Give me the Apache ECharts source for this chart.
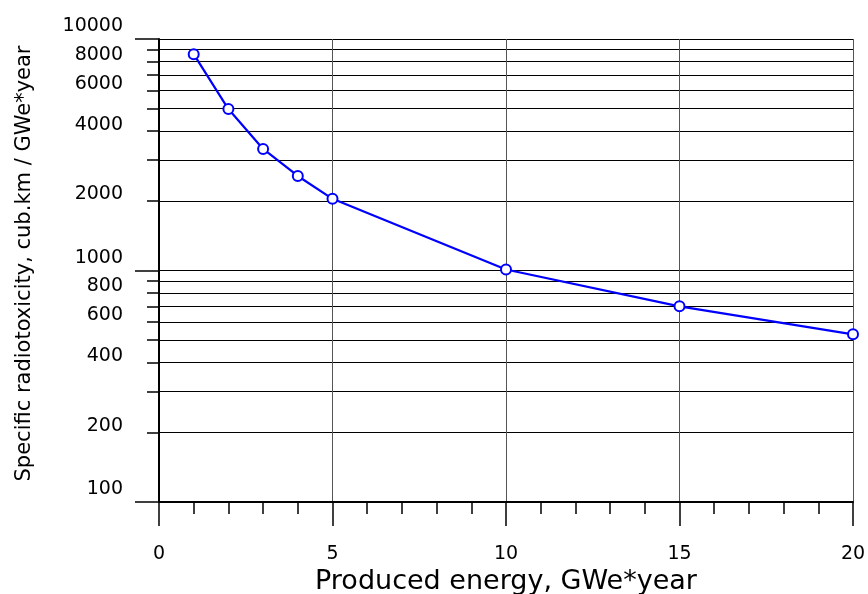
<!DOCTYPE html>
<html>
<head>
<meta charset="utf-8">
<script src="https://cdn.jsdelivr.net/npm/echarts@6/dist/echarts.min.js"></script>
<style>
html,body{margin:0;padding:0;background:#fff;}
#chart{width:868px;height:594px;}
</style>
</head>
<body>
<div id="chart"></div>
<script>
// Data
var energy = [1, 2, 3, 4, 5, 10, 15, 20];
var radiotoxicity = [8600, 4980, 3350, 2560, 2040, 1010, 700, 530];

// Tick / label values (raw units of the log axis)
var minorTickValues = [100,200,300,400,500,600,700,800,900,1000,2000,3000,4000,5000,6000,7000,8000,9000,10000];
var minorLabelValues = [200,400,600,800,2000,4000,6000,8000];
var majorValues = [100,1000,10000];
var xTickLabels = [0, 5, 10, 15, 20];

var FONT = 'DejaVu Sans';
function lg(v){ return Math.log10(v); }
function fmt(v){ return String(Math.round(Math.pow(10, v))); }

var chart = echarts.init(document.getElementById('chart'), null, {renderer:'canvas'});
chart.setOption({
  animation: false,
  backgroundColor: '#fff',
  grid: {left: 159, right: 15, top: 39, bottom: 92, containLabel: false, outerBoundsMode: 'none'},
  xAxis: {
    type: 'value', min: 0, max: 20, interval: 5,
    name: 'Produced energy, GWe*year', nameLocation: 'middle', nameGap: 62,
    nameTextStyle: {fontFamily: FONT, fontSize: 27, color: '#000'},
    axisLine: {show: true, onZero: false, lineStyle: {color: '#000', width: 2}},
    axisTick: {show: true, length: 24, lineStyle: {color: '#000', width: 1.5}},
    minorTick: {show: true, splitNumber: 5, length: 12, lineStyle: {color: '#000', width: 1.5}},
    axisLabel: {fontFamily: FONT, fontSize: 19, color: '#000', margin: 43,
      customValues: xTickLabels},
    splitLine: {show: true, lineStyle: {color: '#555', width: 1}},
    minorSplitLine: {show: false}
  },
  yAxis: [
    {
      type: 'log', min: 100, max: 10000, logBase: 10, show: false,
      splitLine: {show: false}
    },
    {
      type: 'value', min: 2, max: 4, position: 'left',
      name: 'Specific radiotoxicity, cub.km / GWe*year', nameLocation: 'middle', nameGap: 124,
      nameTextStyle: {fontFamily: FONT, fontSize: 21, color: '#000', padding: [0, 0, 0, 14]},
      axisLine: {show: true, lineStyle: {color: '#000', width: 2}},
      axisTick: {show: true, length: 12, lineStyle: {color: '#000', width: 1.5},
        customValues: minorTickValues.map(lg)},
      axisLabel: {fontFamily: FONT, fontSize: 19, color: '#000', margin: 36,
        verticalAlign: 'bottom', lineHeight: 13,
        customValues: minorLabelValues.map(lg), formatter: fmt},
      splitLine: {show: true, lineStyle: {color: '#000', width: 1}}
    },
    {
      type: 'value', min: 2, max: 4, position: 'left',
      axisLine: {show: false},
      axisTick: {show: true, length: 24, lineStyle: {color: '#000', width: 1.5},
        customValues: majorValues.map(lg)},
      axisLabel: {fontFamily: FONT, fontSize: 19, color: '#000', margin: 36,
        verticalAlign: 'bottom', lineHeight: 25,
        customValues: majorValues.map(lg), formatter: fmt},
      splitLine: {show: false}
    }
  ],
  series: [{
    type: 'line',
    yAxisIndex: 0,
    data: energy.map(function(x, i){ return [x, radiotoxicity[i]]; }),
    symbol: 'emptyCircle',
    symbolSize: 10,
    lineStyle: {color: '#0000ff', width: 2.2},
    itemStyle: {color: '#0000ff', borderColor: '#0000ff', borderWidth: 1.5},
    z: 5
  }]
});
</script>
</body>
</html>
